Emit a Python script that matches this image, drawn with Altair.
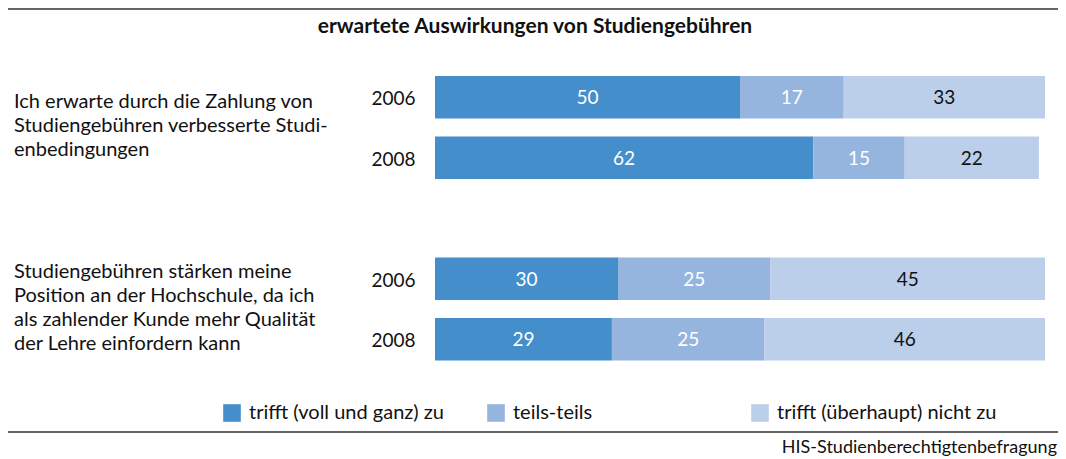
import altair as alt
import pandas as pd

FONT = "Lato"

title_text = "erwartete Auswirkungen von Studiengebühren"
source_text = "HIS-Studienberechtigtenbefragung"

categories = ["trifft (voll und ganz) zu", "teils-teils", "trifft (überhaupt) nicht zu"]
colors = ["#448ECB", "#96B5DE", "#BBCEEA"]

rows = ["Q1-2006", "Q1-2008", "gap", "Q2-2006", "Q2-2008"]
bar_rows = ["Q1-2006", "Q1-2008", "Q2-2006", "Q2-2008"]
values = [
    [50, 17, 33],
    [62, 15, 22],
    [30, 25, 45],
    [29, 25, 46],
]

question_rows = ["Q1-2006", "Q2-2006"]
questions = [
    "Ich erwarte durch die Zahlung von\nStudiengebühren verbesserte Studi-\nenbedingungen",
    "Studiengebühren stärken meine\nPosition an der Hochschule, da ich\nals zahlender Kunde mehr Qualität\nder Lehre einfordern kann",
]

records = []
for r, vals in zip(bar_rows, values):
    for k, (c, v) in enumerate(zip(categories, vals)):
        records.append({"row": r, "cat": c, "k": k, "v": v})
df = pd.DataFrame(records)
one = pd.DataFrame({"a": [0]})

yscale = alt.Scale(domain=rows, paddingInner=0.3, paddingOuter=0.15)

base = alt.Chart(df).transform_stack(
    stack="v", groupby=["row"], as_=["x0", "x1"], sort=[alt.SortField("k", order="ascending")]
).transform_calculate(mid="(datum.x0 + datum.x1) / 2")

bars = base.mark_bar().encode(
    y=alt.Y("row:N", scale=yscale, title=None,
            axis=alt.Axis(labelExpr="slice(datum.value, 3)", ticks=False, domain=False,
                          labelPadding=20, labelFontSize=19, labelFont=FONT,
                          labelColor="#111111", labelFontWeight="normal", labelOffset=2)),
    x=alt.X("x0:Q", scale=alt.Scale(domain=[0, 100], nice=False, zero=True), axis=None),
    x2="x1:Q",
    color=alt.Color("cat:N", scale=alt.Scale(domain=categories, range=colors),
                    legend=alt.Legend(orient="none", legendX=-213, legendY=336,
                                      direction="horizontal", columns=3, gridAlign="all",
                                      columnPadding=17, symbolType="square", symbolSize=310,
                                      symbolStrokeWidth=0, symbolOpacity=1,
                                      labelFontSize=20, labelFont=FONT, labelColor="#111111",
                                      labelOffset=7, title=None, labelLimit=400)),
)

labels = base.mark_text(fontSize=19, font=FONT, baseline="middle", dy=1).encode(
    y=alt.Y("row:N", scale=yscale),
    x=alt.X("mid:Q"),
    text="v:Q",
    color=alt.condition("datum.k < 2", alt.value("white"), alt.value("#111111")),
)


def question_layer(i, dy):
    qdf = pd.DataFrame({"row": [question_rows[i]], "q": [questions[i]]})
    return alt.Chart(qdf).mark_text(
        align="left", baseline="middle", lineBreak="\n", fontSize=20, lineHeight=24,
        font=FONT, dy=dy, color="#111111"
    ).encode(
        y=alt.Y("row:N", scale=yscale),
        x=alt.value(-421),
        text="q:N",
    )


q1 = question_layer(0, 5)
q2 = question_layer(1, -7)

title = alt.Chart(one).mark_text(
    align="center", baseline="middle", fontSize=21, fontWeight="bold", font=FONT, color="#111111"
).encode(x=alt.value(100), y=alt.value(-40), text=alt.value(title_text))

top_rule = alt.Chart(one).mark_rule(color="#333333", strokeWidth=1.5).encode(
    x=alt.value(-427), x2=alt.value(631), y=alt.value(-58)
)
bottom_rule = alt.Chart(one).mark_rule(color="#333333", strokeWidth=1.5).encode(
    x=alt.value(-427), x2=alt.value(631), y=alt.value(365)
)
footer = alt.Chart(one).mark_text(
    align="right", baseline="middle", fontSize=18, font=FONT, color="#111111"
).encode(x=alt.value(622), y=alt.value(381), text=alt.value(source_text))

chart = alt.layer(top_rule, bottom_rule, bars, labels, q1, q2, title, footer).properties(
    width=610,
    height=302.5,
    autosize=alt.AutoSizeParams(type="none"),
    padding={"left": 427, "top": 59, "right": 13, "bottom": 90},
).configure_view(stroke=None)

chart.save("out.html", embed_options={"renderer": "svg", "actions": False})
